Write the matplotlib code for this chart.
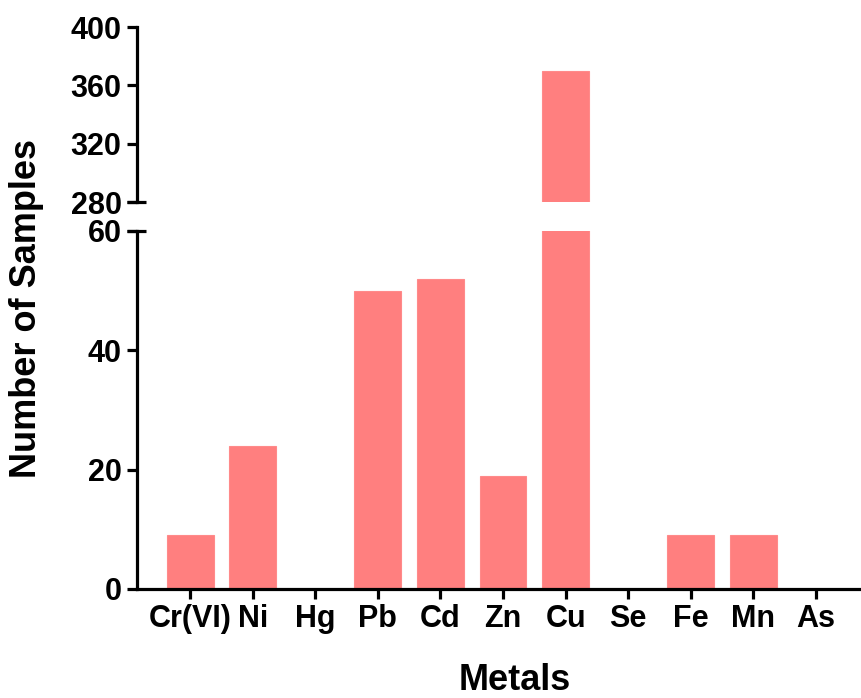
import matplotlib
matplotlib.use("Agg")
from matplotlib import pyplot as plt

metals = ["Cr(VI)", "Ni", "Hg", "Pb", "Cd", "Zn", "Cu", "Se", "Fe", "Mn", "As"]
samples = [9, 24, 0, 50, 52, 19, 370, 0, 9, 9, 0]
low_ticks = [0, 20, 40, 60]
high_ticks = [280, 320, 360, 400]

plt.rcParams["font.family"] = ["Liberation Sans", "DejaVu Sans"]
plt.rcParams["font.weight"] = "bold"

color = "#FF7F7F"
lw = 2.3
xs = list(range(len(metals)))

fig = plt.figure(figsize=(8.61, 6.98), dpi=100)
ax_hi = fig.add_axes([0.159, 0.7106, 0.841, 0.2507])
ax_lo = fig.add_axes([0.159, 0.1562, 0.841, 0.5129])

for ax in (ax_hi, ax_lo):
    ax.bar(xs, samples, width=0.75, color=color, edgecolor="#FF8A8A", linewidth=0.8)
    ax.set_xlim(-0.85, 10.72)
    for s in ("top", "right"):
        ax.spines[s].set_visible(False)
    ax.spines["left"].set_linewidth(lw)
    ax.tick_params(axis="y", labelsize=22, width=lw, length=7, pad=4)

ax_hi.set_ylim(280, 400)
ax_hi.set_yticks(high_ticks)
ax_hi.spines["bottom"].set_visible(False)
ax_hi.set_xticks([])

ax_lo.set_ylim(0, 60)
ax_lo.set_yticks(low_ticks)
ax_lo.spines["bottom"].set_linewidth(lw)
ax_lo.spines["bottom"].set_zorder(3)
ax_lo.set_xticks(xs)
ax_lo.set_xticklabels(metals, fontsize=22, fontweight="bold")
ax_lo.tick_params(axis="x", width=lw, length=7, pad=4)

for ax in (ax_hi, ax_lo):
    for t in ax.get_yticklabels():
        t.set_fontweight("bold")

# break marks
ax_hi.plot([-0.013, 0.013], [0, 0], transform=ax_hi.transAxes, color="black", lw=lw, clip_on=False, solid_capstyle="butt")
ax_lo.plot([-0.013, 0.013], [1, 1], transform=ax_lo.transAxes, color="black", lw=lw, clip_on=False, solid_capstyle="butt")

fig.text(515 / 861, 1 - 680 / 698, "Metals", ha="center", va="center", fontsize=26, fontweight="bold")
fig.text(27 / 861, 1 - 309 / 698, "Number of Samples", ha="center", va="center", rotation=90, fontsize=26, fontweight="bold")

fig.savefig("out.png", dpi=100)
